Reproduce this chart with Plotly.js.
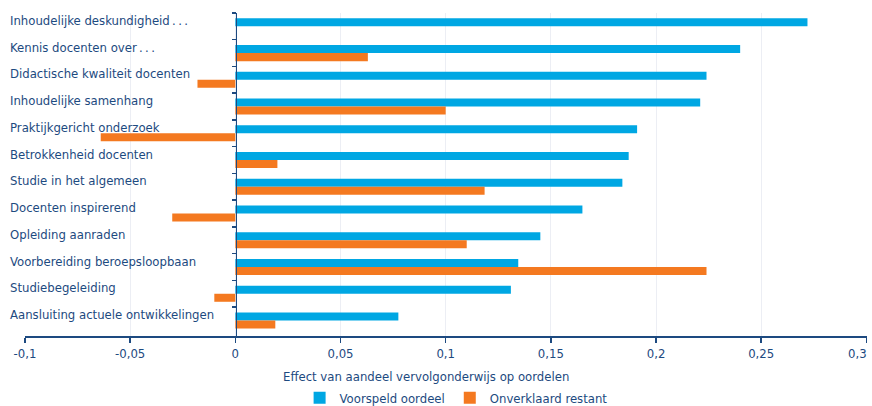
<!DOCTYPE html>
<html>
<head>
<meta charset="utf-8">
<script src="https://cdn.plot.ly/plotly-3.0.1.min.js"></script>
<style>html,body{margin:0;padding:0;background:#fff}#chart{width:872px;height:406px}</style>
</head>
<body>
<div id="chart"></div>
<script>
const categories = [
  "Inhoudelijke deskundigheid\u2009.\u2009.\u2009.",
  "Kennis docenten over\u2009.\u2009.\u2009.",
  "Didactische kwaliteit docenten",
  "Inhoudelijke samenhang",
  "Praktijkgericht onderzoek",
  "Betrokkenheid docenten",
  "Studie in het algemeen",
  "Docenten inspirerend",
  "Opleiding aanraden",
  "Voorbereiding beroepsloopbaan",
  "Studiebegeleiding",
  "Aansluiting actuele ontwikkelingen"
];
const voorspeld = [0.272, 0.240, 0.224, 0.221, 0.191, 0.187, 0.184, 0.165, 0.145, 0.1345, 0.131, 0.0775];
const onverklaard = [0, 0.063, -0.018, 0.100, -0.064, 0.020, 0.1185, -0.030, 0.110, 0.224, -0.010, 0.019];
const tickVals = [-0.1, -0.05, 0, 0.05, 0.1, 0.15, 0.2, 0.25, 0.3];
const tickText = ["-0,1", "-0,05", "0", "0,05", "0,1", "0,15", "0,2", "0,25", "0,3"];
const seriesNames = ["Voorspeld oordeel", "Onverklaard restant"];
const xTitle = "Effect van aandeel vervolgonderwijs op oordelen";

const FONT = '"Liberation Sans Narrow", "DejaVu Sans Condensed", "Roboto Condensed", "Liberation Sans", sans-serif';
const NAVY = '#1d4a80';
const FS = 13;

// the last label sits flush with the right edge (as in the reference), so it is drawn right-aligned
const lastIdx = tickText.length - 1;
const axisTickText = tickText.map((t, i) => i === lastIdx ? '' : t);

const traces = [
  {type: 'bar', orientation: 'h', name: seriesNames[0], y: categories, x: voorspeld,
   marker: {color: '#00a7e3'}, hoverinfo: 'x+y'},
  {type: 'bar', orientation: 'h', name: seriesNames[1], y: categories, x: onverklaard,
   marker: {color: '#f47920'}, hoverinfo: 'x+y'}
];

const annotations = categories.map(c => ({
  xref: 'paper', yref: 'y', x: 0, y: c, xshift: -17, yshift: 6,
  xanchor: 'left', yanchor: 'middle', showarrow: false, text: c,
  font: {family: FONT, size: FS, color: NAVY}
}));
annotations.push({
  xref: 'paper', yref: 'paper', x: 0.476, y: -0.125, xanchor: 'center', yanchor: 'middle',
  showarrow: false, text: xTitle, font: {family: FONT, size: FS, color: NAVY}
});
annotations.push({
  xref: 'x', yref: 'paper', x: tickVals[lastIdx], y: -0.053, xanchor: 'right', yanchor: 'middle',
  xshift: 3, showarrow: false, text: tickText[lastIdx], font: {family: FONT, size: FS, color: NAVY}
});

const layout = {
  width: 872, height: 406,
  margin: {l: 25, r: 5, t: 13, b: 70},
  paper_bgcolor: '#fff', plot_bgcolor: '#fff',
  separators: ',.',
  barmode: 'group', bargap: 0.4, bargroupgap: 0,
  showlegend: true,
  legend: {orientation: 'h', x: 0.512, xanchor: 'center', xref: 'paper',
           y: 0.02, yanchor: 'middle', yref: 'container',
           font: {family: FONT, size: FS, color: NAVY}, itemwidth: 30, traceorder: 'normal'},
  xaxis: {
    range: [-0.1, 0.3003], tickvals: tickVals, ticktext: axisTickText,
    showgrid: true, gridcolor: '#eceef4', gridwidth: 1,
    zeroline: false,
    showline: true, linecolor: NAVY, linewidth: 1.5,
    ticks: 'outside', ticklen: 5, tickcolor: NAVY, tickwidth: 1.5,
    tickfont: {family: FONT, size: FS, color: NAVY},
    automargin: false,
    fixedrange: true
  },
  yaxis: {
    type: 'category', autorange: 'reversed',
    anchor: 'free', position: 0.25,
    showgrid: false, zeroline: false,
    showline: true, linecolor: NAVY, linewidth: 1.5,
    ticks: 'outside', tickson: 'boundaries', ticklen: 4, tickcolor: NAVY, tickwidth: 1.5,
    showticklabels: false, automargin: false, fixedrange: true
  },
  annotations: annotations
};

Plotly.newPlot('chart', traces, layout, {displayModeBar: false, staticPlot: true});
</script>
</body>
</html>
